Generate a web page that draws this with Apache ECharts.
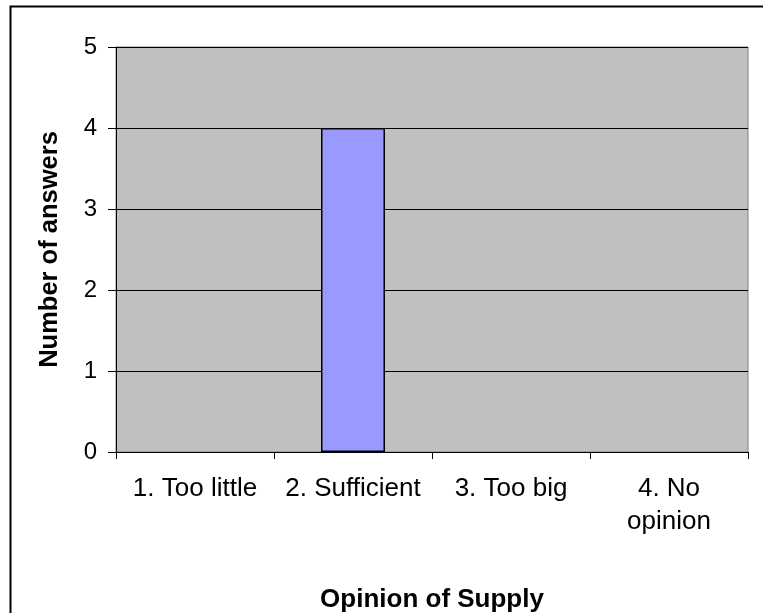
<!DOCTYPE html>
<html>
<head>
<meta charset="utf-8">
<script src="https://cdn.jsdelivr.net/npm/echarts@6/dist/echarts.min.js"></script>
<style>
  html, body { margin: 0; padding: 0; background: #fff; }
  #chart { width: 763px; height: 613px; }
</style>
</head>
<body>
<div id="chart"></div>
<script>
// Survey answers: opinion of supply
const categories = ['1. Too little', '2. Sufficient', '3. Too big', '4. No\nopinion'];
const answers = [0, 4, 0, 0];
const yTicks = [0, 1, 2, 3, 4, 5];

const FONT = "'Liberation Sans', Arial, sans-serif";

const chart = echarts.init(document.getElementById('chart'), null, { renderer: 'canvas' });

// zero-height bars get no outline so nothing is drawn over the axis
const barData = answers.map(v => ({
  value: v,
  itemStyle: v === 0 ? { borderWidth: 0 } : {}
}));

chart.setOption({
  backgroundColor: '#fff',
  animation: false,
  graphic: [{
    type: 'rect',
    shape: { x: 10.5, y: 6.5, width: 1000, height: 1000 },
    style: { fill: 'none', stroke: '#000', lineWidth: 2 },
    silent: true
  }],
  grid: {
    left: 116, right: 15, top: 47, bottom: 161,
    containLabel: false,
    outerBoundsMode: 'none',
    show: true,
    backgroundColor: '#C0C0C0',
    borderColor: '#808080',
    borderWidth: 1
  },
  xAxis: {
    type: 'category',
    data: categories,
    name: 'Opinion of Supply',
    nameLocation: 'middle',
    nameGap: 135,
    nameTextStyle: { fontFamily: FONT, fontSize: 26, fontWeight: 'bold', color: '#000' },
    axisLine: { lineStyle: { color: '#000', width: 1 } },
    axisTick: { show: true, alignWithLabel: false, length: 7, lineStyle: { color: '#000' } },
    axisLabel: {
      fontFamily: FONT, fontSize: 26, color: '#000', margin: 20,
      lineHeight: 33, interval: 0
    },
    splitLine: { show: false }
  },
  yAxis: {
    type: 'value',
    min: yTicks[0],
    max: yTicks[yTicks.length - 1],
    interval: 1,
    name: 'Number of answers',
    nameLocation: 'middle',
    nameGap: 53,
    nameRotate: 90,
    nameTextStyle: { fontFamily: FONT, fontSize: 25.5, fontWeight: 'bold', color: '#000' },
    axisLine: { show: true, lineStyle: { color: '#000', width: 1 } },
    axisTick: { show: true, length: 8, lineStyle: { color: '#000' } },
    axisLabel: { fontFamily: FONT, fontSize: 24, color: '#000', margin: 19 },
    splitLine: { show: true, lineStyle: { color: '#000', width: 1 } }
  },
  series: [{
    type: 'bar',
    data: barData,
    barWidth: '40.5%',
    itemStyle: { color: '#9999FF', borderColor: '#000', borderWidth: 1.5 }
  }]
});
</script>
</body>
</html>
